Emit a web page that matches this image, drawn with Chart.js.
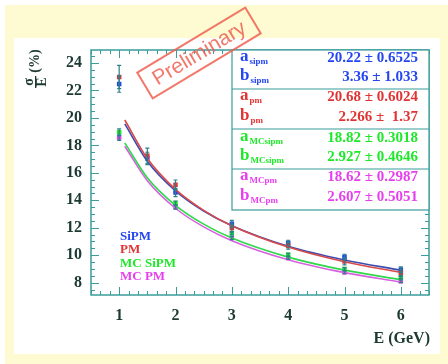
<!DOCTYPE html>
<html lang="en">
<head>
<meta charset="UTF-8">
<title>Energy resolution</title>
<script src="https://cdn.jsdelivr.net/npm/chart.js@4"></script>
<style>
  html, body { margin: 0; padding: 0; background: #fff; }
  #wrap { width: 448px; height: 364px; }
</style>
</head>
<body>
<div id="wrap"><canvas id="res" width="448" height="364"></canvas></div>
<script>
// measured points (beam energy in GeV, resolution in %)
const dataE = [1, 1.5, 2, 3, 4, 5, 6];
const sipmVals = [22.47, 17.05, 14.57, 12.29, 10.89, 9.87, 8.95];
const sipmErr = [0.85, 0.55, 0.35, 0.3, 0.25, 0.25, 0.25];
const pmVals = [22.98, 17.25, 15.13, 11.97, 10.69, 9.55, 8.7];
const pmErr = [0.6, 0.45, 0.3, 0.25, 0.2, 0.2, 0.2];

const mcE = [1, 2, 3, 4, 5, 6];
const mcSipmVals = [18.96, 13.8, 11.6, 10.04, 9.0, 8.39];
const mcSipmErr = [0.25, 0.15, 0.12, 0.1, 0.1, 0.1];
const mcPmVals = [18.57, 13.5, 11.25, 9.79, 8.75, 8.1];
const mcPmErr = [0.2, 0.15, 0.12, 0.1, 0.1, 0.1];

// fit curves
const fitE = [1.1, 1.5, 2, 2.5, 3, 4, 5, 6];
const fitSipm = [19.57, 16.85, 14.69, 13.22, 12.15, 10.65, 9.65, 8.91];
const fitPm = [19.85, 17.04, 14.80, 13.27, 12.15, 10.59, 9.52, 8.74];
const fitMcSipm = [18.18, 15.64, 13.63, 12.26, 11.25, 9.86, 8.91, 8.22];
const fitMcPm = [17.94, 15.43, 13.42, 12.06, 11.06, 9.67, 8.73, 8.04];

const xTicks = [1, 2, 3, 4, 5, 6];
const yTicks = [8, 10, 12, 14, 16, 18, 20, 22, 24];

const legendNames = ["SiPM", "PM", "MC SiPM", "MC PM"];
const statsSub = ["sipm", "sipm", "pm", "pm", "MCsipm", "MCsipm", "MCpm", "MCpm"];
const statsText = ["20.22 \u00b1 0.6525", "3.36 \u00b1 1.033", "20.68 \u00b1 0.6024", "2.266 \u00b1  1.37",
  "18.82 \u00b1 0.3018", "2.927 \u00b1 0.4646", "18.62 \u00b1 0.2987", "2.607 \u00b1 0.5051"];

const BLUE = "#2446f0", RED = "#e03434", GREEN = "#1fe82a", MAGENTA = "#e640ee";
const TEAL = "#3b9c9c";
const INK = "#1c3a32";
const SERIF = "'Liberation Serif', 'DejaVu Serif', serif";

const pts = (xs, ys) => xs.map((x, i) => ({ x: x, y: ys[i] }));

// background panel + frame + ticks + texts
const decor = {
  id: "decor",
  beforeDraw(chart) {
    const c = chart.ctx;
    c.save();
    c.fillStyle = "#ffffff";
    c.fillRect(0, 0, chart.width, chart.height);
    c.fillStyle = "#fefbd3";
    c.fillRect(5, 5, chart.width - 5, chart.height - 5);
    c.fillStyle = "#ffffff";
    c.fillRect(14, 38, 426, 316);
    c.restore();
  },
  afterDatasetsDraw(chart) {
    const c = chart.ctx;
    const a = chart.chartArea;
    const xs = chart.scales.x, ys = chart.scales.y;

    // error bars
    const errs = [sipmErr, pmErr, mcSipmErr, mcPmErr];
    c.save();
    c.strokeStyle = "#2b8088";
    c.lineWidth = 1.2;
    [4, 5, 6, 7].forEach((di, k) => {
      chart.data.datasets[di].data.forEach((p, i) => {
        const px = xs.getPixelForValue(p.x);
        const y1 = ys.getPixelForValue(p.y + errs[k][i]);
        const y2 = ys.getPixelForValue(p.y - errs[k][i]);
        c.beginPath();
        c.moveTo(px, y1); c.lineTo(px, y2);
        c.moveTo(px - 2, y1); c.lineTo(px + 2, y1);
        c.moveTo(px - 2, y2); c.lineTo(px + 2, y2);
        c.stroke();
      });
    });
    c.restore();
  },
  afterDraw(chart) {
    const c = chart.ctx;
    const a = chart.chartArea;
    const xs = chart.scales.x, ys = chart.scales.y;
    c.save();

    // frame and inward ticks on all sides
    c.strokeStyle = TEAL;
    c.lineWidth = 1.5;
    c.strokeRect(a.left, a.top, a.right - a.left, a.bottom - a.top);
    c.lineWidth = 1;
    c.beginPath();
    for (let v = 7.5; v <= 24.9; v += 0.5) {
      const py = Math.round(ys.getPixelForValue(v)) + 0.5;
      const len = (v % 2 === 0) ? 8 : 4;
      c.moveTo(a.left, py); c.lineTo(a.left + len, py);
      c.moveTo(a.right, py); c.lineTo(a.right - len, py);
    }
    for (let k = 3; k <= 39; k++) {
      const v = k / 6;
      const px = Math.round(xs.getPixelForValue(v)) + 0.5;
      const len = (k % 6 === 0) ? 8 : 4;
      c.moveTo(px, a.bottom); c.lineTo(px, a.bottom - len);
      c.moveTo(px, a.top); c.lineTo(px, a.top + len);
    }
    c.stroke();

    // stats box
    const bx = 232, by = a.top, bw = a.right - 232, bh = 160;
    c.fillStyle = "#ffffff";
    c.fillRect(bx, by, bw, bh);
    c.strokeStyle = TEAL;
    c.lineWidth = 1.2;
    c.strokeRect(bx, by, bw, bh);
    c.beginPath();
    [89, 129, 169].forEach(y => { c.moveTo(bx, y); c.lineTo(bx + bw, y); });
    c.stroke();
    const rowY = [58, 77, 97, 117, 138, 157, 177, 197];
    const rowCol = [BLUE, BLUE, RED, RED, GREEN, GREEN, MAGENTA, MAGENTA];
    c.textBaseline = "middle";
    rowY.forEach((y, i) => {
      c.fillStyle = rowCol[i];
      c.textAlign = "left";
      c.font = "bold 17px " + SERIF;
      const letter = i % 2 === 0 ? "a" : "b";
      c.fillText(letter, 240, y - 1);
      const lw = c.measureText(letter).width;
      c.font = "bold 9px " + SERIF;
      c.fillText(statsSub[i], 240 + lw + 1, y + 4);
      c.font = "bold 15px " + SERIF;
      c.textAlign = "right";
      c.fillText(statsText[i], 418, y);
    });

    // legend texts
    const legCol = [BLUE, RED, GREEN, MAGENTA];
    const legY = [237, 250, 264, 277];
    c.textAlign = "left";
    c.font = "bold 13px " + SERIF;
    legendNames.forEach((n, i) => {
      c.fillStyle = legCol[i];
      c.fillText(n, 120, legY[i]);
    });

    // axis titles
    c.fillStyle = INK;
    c.font = "bold 16px " + SERIF;
    c.textAlign = "right";
    c.fillText("E (GeV)", 430, 339);

    c.save();
    c.translate(35, 72);
    c.rotate(-Math.PI / 2);
    c.textAlign = "center";
    c.font = "bold 14px " + SERIF;
    c.fillText("\u03c3", -10, -6);
    c.fillText("E", -10, 7);
    c.fillRect(-16, 0, 12, 1.3);
    c.font = "bold 14px " + SERIF;
    c.fillText("(%)", 11, 0);
    c.restore();

    // preliminary stamp
    c.save();
    c.translate(199, 53);
    c.rotate(-31 * Math.PI / 180);
    c.strokeStyle = "rgba(238, 96, 80, 0.85)";
    c.lineWidth = 2;
    c.strokeRect(-63, -15, 126, 30);
    c.fillStyle = "rgba(238, 96, 80, 0.85)";
    c.font = "21px 'Liberation Sans', Arial, sans-serif";
    c.textAlign = "center";
    c.fillText("Preliminary", 0, 1);
    c.restore();

    c.restore();
  }
};

const fitLine = (data, color) => ({
  type: "line", data: data, showLine: true, borderColor: color, borderWidth: 1.6,
  pointRadius: 0, tension: 0.4, cubicInterpolationMode: "monotone", fill: false
});
const markers = (data, color) => ({
  type: "scatter", data: data, backgroundColor: color, borderColor: color,
  pointStyle: "rect", pointRadius: 3.2, borderWidth: 0, showLine: false
});

new Chart(document.getElementById("res"), {
  type: "scatter",
  data: {
    datasets: [
      fitLine(pts(fitE, fitMcSipm), "#2fd84a"),
      fitLine(pts(fitE, fitMcPm), "#d860e0"),
      fitLine(pts(fitE, fitPm), "#d84a4a"),
      fitLine(pts(fitE, fitSipm), "#3a4cb0"),
      markers(pts(dataE, pmVals), RED),
      markers(pts(dataE, sipmVals), BLUE),
      markers(pts(mcE, mcSipmVals), GREEN),
      markers(pts(mcE, mcPmVals), MAGENTA)
    ]
  },
  options: {
    responsive: false,
    animation: false,
    layout: { padding: { left: 14, top: 50, right: 19, bottom: 10 } },
    plugins: { legend: { display: false }, tooltip: { enabled: false } },
    scales: {
      x: {
        type: "linear", min: 0.5, max: 6.5,
        afterFit(s) { s.height = 59; },
        afterBuildTicks(s) { s.ticks = xTicks.map(v => ({ value: v })); },
        grid: { display: false, drawTicks: false },
        border: { display: false },
        ticks: { padding: 11, color: INK, font: { family: SERIF, size: 16, weight: "bold" } }
      },
      y: {
        type: "linear", min: 7.1, max: 24.95,
        afterFit(s) { s.width = 77; },
        afterBuildTicks(s) { s.ticks = yTicks.map(v => ({ value: v })); },
        grid: { display: false, drawTicks: false },
        border: { display: false },
        ticks: { padding: 9, color: INK, font: { family: SERIF, size: 16, weight: "bold" } }
      }
    }
  },
  plugins: [decor]
});
</script>
</body>
</html>
